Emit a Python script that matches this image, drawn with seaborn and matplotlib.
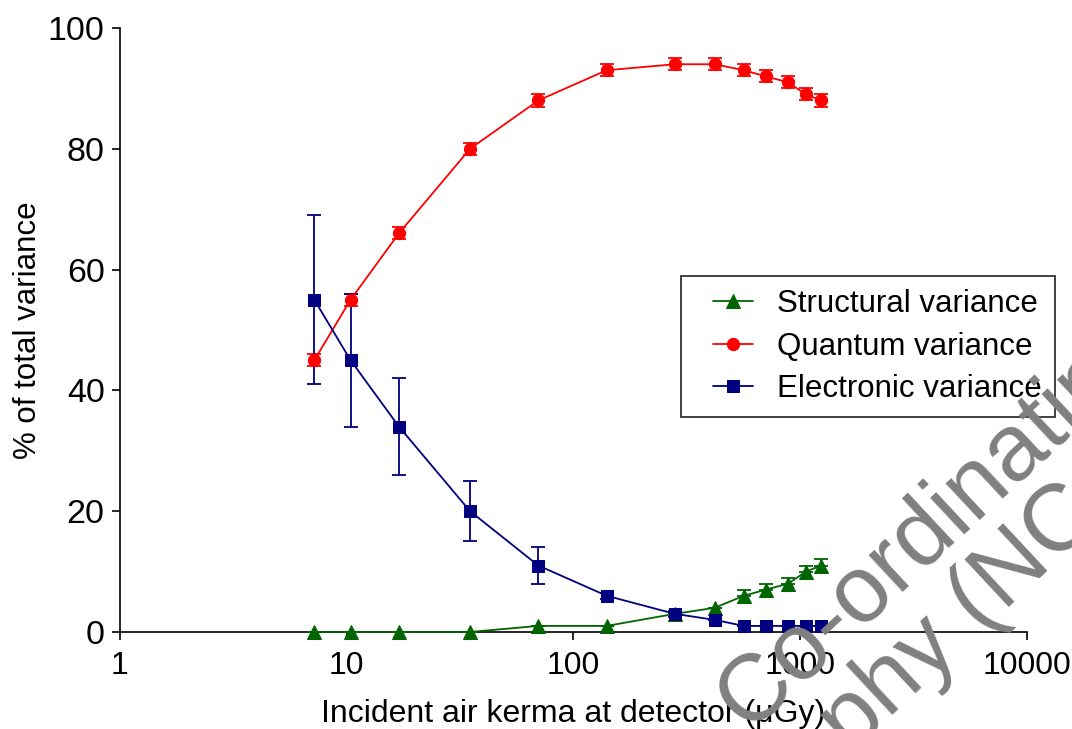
import matplotlib
matplotlib.use("Agg")
import matplotlib.pyplot as plt
from matplotlib.legend_handler import HandlerLine2D
import seaborn as sns

# -----------------------------
# Data
# -----------------------------
kerma = [7.2, 10.4, 17, 35, 70, 140, 280, 420, 565, 705, 885, 1060, 1240]

structural = [0, 0, 0, 0, 1, 1, 3, 4, 6, 7, 8, 10, 11]
structural_err = [0, 0, 0, 0, 0, 0, 0, 0, 1, 1, 1, 1, 1]

quantum = [45, 55, 66, 80, 88, 93, 94, 94, 93, 92, 91, 89, 88]
quantum_err = [1, 1, 1, 1, 1, 1, 1, 1, 1, 1, 1, 1, 1]

electronic = [55, 45, 34, 20, 11, 6, 3, 2, 1, 1, 1, 1, 1]
electronic_err = [14, 11, 8, 5, 3, 0.5, 0.5, 0, 0, 0, 0, 0, 0]

x_ticks = [1, 10, 100, 1000, 10000]
y_ticks = [0, 20, 40, 60, 80, 100]

# -----------------------------
# Style
# -----------------------------
sns.set_style("ticks")
plt.rcParams["font.family"] = ["Liberation Sans", "DejaVu Sans"]
plt.rcParams["text.color"] = "black"
plt.rcParams["axes.labelcolor"] = "black"

fig = plt.figure(figsize=(10.72, 7.29), dpi=100)
ax = fig.add_axes([0.1119, 0.1331, 0.846, 0.8285])

series = [
    ("Structural variance", structural, structural_err, "#006400", "^", 9.8, True),
    ("Quantum variance", quantum, quantum_err, "#ff0000", "o", 8.8, False),
    ("Electronic variance", electronic, electronic_err, "#000080", "s", 8.4, False),
]

for label, vals, err, color, marker, ms, up_only in series:
    yerr = [[0] * len(err), err] if up_only else err
    ax.errorbar(kerma, vals, yerr=yerr, fmt="none", ecolor=color,
                elinewidth=1.3, capsize=5, capthick=1.3, clip_on=False, zorder=3)
    sns.lineplot(x=kerma, y=vals, color=color, marker=marker, markersize=ms,
                 markeredgecolor=color, linewidth=1.3, label=label, ax=ax,
                 clip_on=False, zorder=4)

ax.set_xscale("log")
ax.set_xlim(1, 10000)
ax.set_ylim(0, 100)
ax.set_xticks(x_ticks)
ax.set_xticklabels([str(t) for t in x_ticks])
ax.minorticks_off()
ax.set_yticks(y_ticks)

sns.despine(ax=ax)
for s in ["left", "bottom"]:
    ax.spines[s].set_linewidth(1.2)
    ax.spines[s].set_color("black")

ax.tick_params(axis="both", direction="out", length=6, width=1.2, colors="black")
ax.tick_params(axis="x", pad=8, labelsize=23)
ax.tick_params(axis="y", pad=5, labelsize=24.5)

ax.set_xlabel("Incident air kerma at detector (\u03bcGy)", fontsize=23, labelpad=13)
ax.set_ylabel("% of total variance", fontsize=22.5, labelpad=3.5)

handles, labels = ax.get_legend_handles_labels()
leg = ax.legend(handles, labels, loc="upper left", bbox_to_anchor=(0.6185, 0.589),
                fontsize=22.5, frameon=True, fancybox=False, handlelength=1.9,
                handletextpad=0.77, borderpad=0.42, labelspacing=0.39,
                borderaxespad=0,
                handler_map={h: HandlerLine2D(xpad=0.6) for h in handles})
leg.get_frame().set_edgecolor("black")
leg.get_frame().set_linewidth(1.3)

# watermark across the lower right
fig.text(748 / 1072, 1 - 732 / 729, "Co-ordinating", fontsize=68, color="#808080",
         rotation=43, rotation_mode="anchor", ha="left", va="baseline", zorder=10)
fig.text(1280 / 1072, 1 - 354 / 729, "Mammography (NCCPM)", fontsize=68,
         color="#808080", rotation=43, rotation_mode="anchor", ha="right",
         va="baseline", zorder=10)

fig.savefig("out.png", dpi=100)
